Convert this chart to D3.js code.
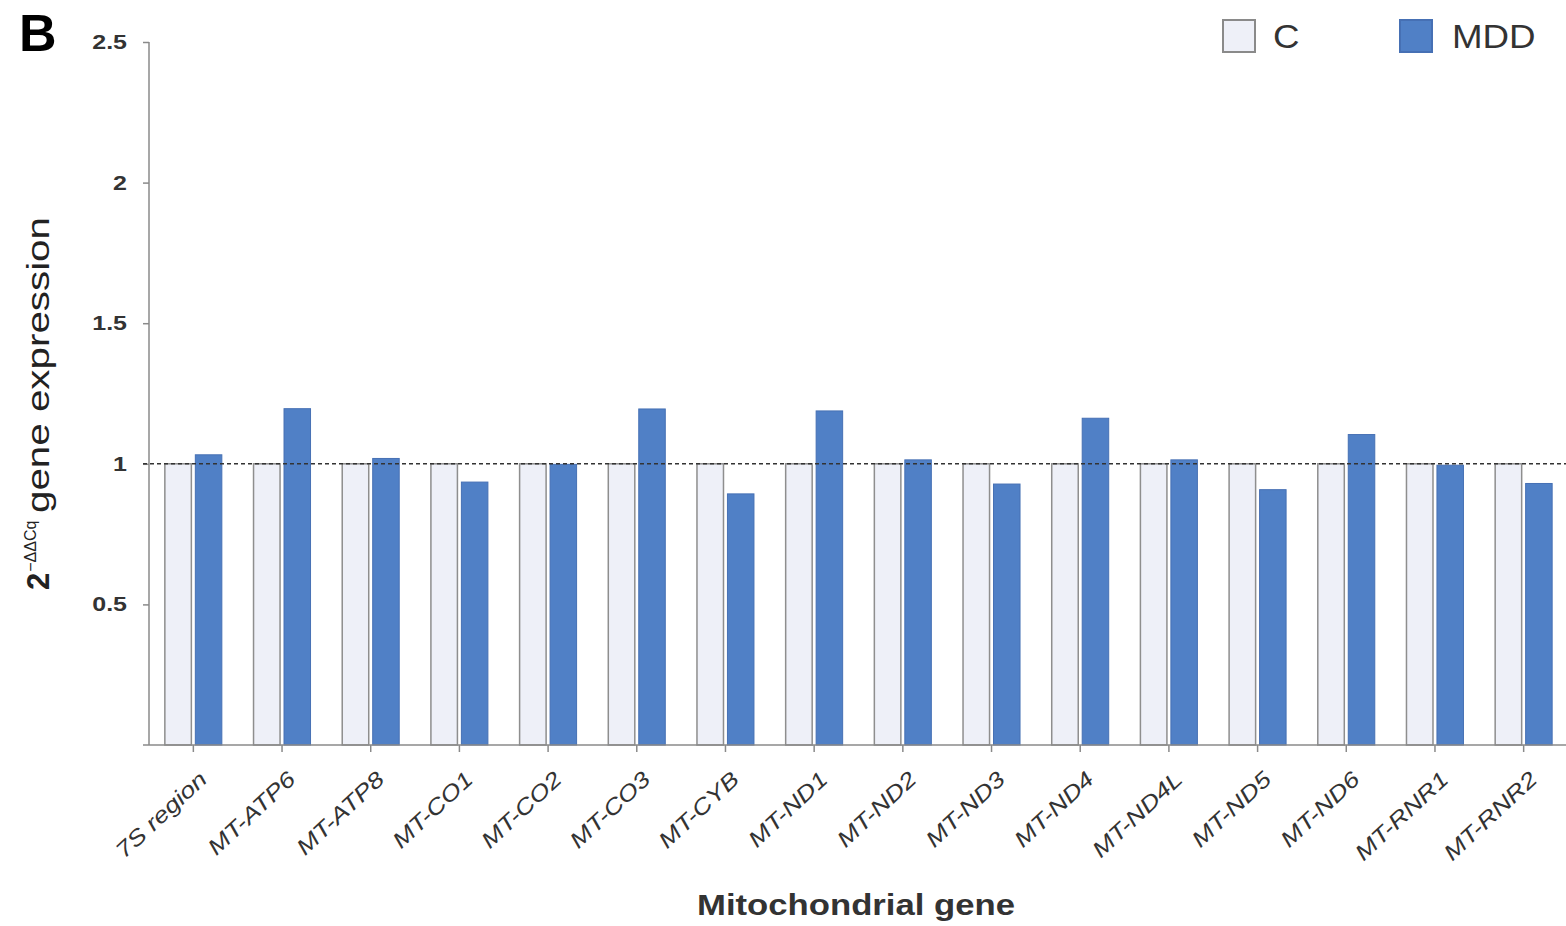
<!DOCTYPE html>
<html>
<head>
<meta charset="utf-8">
<script src="https://cdn.jsdelivr.net/npm/d3@7"></script>
<style>
  html, body { margin: 0; padding: 0; background: #fff; }
  svg { display: block; }
  text { font-family: Arial, "Liberation Sans", sans-serif; }
</style>
</head>
<body>
<svg id="chart" width="1566" height="926"></svg>
<script>
// Mitochondrial gene expression (2^-ΔΔCq), controls vs. MDD
const genes = ["7S region", "MT-ATP6", "MT-ATP8", "MT-CO1", "MT-CO2", "MT-CO3", "MT-CYB", "MT-ND1",
               "MT-ND2", "MT-ND3", "MT-ND4", "MT-ND4L", "MT-ND5", "MT-ND6", "MT-RNR1", "MT-RNR2"];
const groups = ["C", "MDD"];
const controlValues = [1, 1, 1, 1, 1, 1, 1, 1, 1, 1, 1, 1, 1, 1, 1, 1];
const mddValues = [1.032, 1.196, 1.019, 0.935, 0.998, 1.195, 0.893, 1.188,
                   1.014, 0.928, 1.162, 1.014, 0.908, 1.104, 0.995, 0.930];
const yTicks = [0.5, 1, 1.5, 2, 2.5];
const referenceLevel = 1;

const colors = { C: "#eef0f8", MDD: "#5080c6" };
const strokes = { C: "#8e8e8e", MDD: "#4670b4" };

const svg = d3.select("#chart");

const plot = { left: 149, right: 1568, top: 42, bottom: 745 };

const x = d3.scaleBand().domain(genes).range([plot.left, plot.right]).paddingInner(0).paddingOuter(0);
const xInner = d3.scaleBand().domain(groups).range([0, x.bandwidth()]).paddingInner(0.13).paddingOuter(0.52);
const y = d3.scaleLinear().domain([0, 2.5]).range([plot.bottom, plot.top]);

const rows = genes.map((g, i) => ({ gene: g, C: controlValues[i], MDD: mddValues[i] }));

// horizontal stretch helper for text blocks
function stretch(sel, factor) {
  sel.each(function () {
    const w = this.getComputedTextLength();
    d3.select(this).attr("textLength", w * factor).attr("lengthAdjust", "spacingAndGlyphs");
  });
}

// y axis
const yAxis = svg.append("g")
  .attr("transform", `translate(${plot.left},0)`)
  .call(d3.axisLeft(y).tickValues(yTicks).tickSize(6).tickPadding(16)
    .tickFormat(d => String(d)));
yAxis.select(".domain").attr("d", `M0,${plot.top}V${plot.bottom}`).attr("stroke", "#8a8a8a").attr("stroke-width", 1.5);
yAxis.selectAll(".tick line").attr("stroke", "#8a8a8a").attr("stroke-width", 1.5);
yAxis.selectAll(".tick text")
  .attr("fill", "#333").attr("font-size", 20).attr("font-weight", "bold")
  .attr("font-family", "Arial, 'Liberation Sans', sans-serif")
  .call(stretch, 1.25);

// control bars
const groupsSel = svg.append("g").selectAll("g.gene")
  .data(rows).join("g").attr("class", "gene")
  .attr("transform", d => `translate(${x(d.gene)},0)`);

groupsSel.append("rect")
  .attr("x", xInner("C"))
  .attr("width", xInner.bandwidth())
  .attr("y", d => y(d.C))
  .attr("height", d => y(0) - y(d.C))
  .attr("fill", colors.C).attr("stroke", strokes.C).attr("stroke-width", 1.5);

// reference line at 1
svg.append("line")
  .attr("x1", plot.left - 6).attr("x2", 1566)
  .attr("y1", y(referenceLevel)).attr("y2", y(referenceLevel))
  .attr("stroke", "#333").attr("stroke-width", 1.6).attr("stroke-dasharray", "4,3");

// MDD bars
groupsSel.append("rect")
  .attr("x", xInner("MDD"))
  .attr("width", xInner.bandwidth())
  .attr("y", d => y(d.MDD))
  .attr("height", d => y(0) - y(d.MDD))
  .attr("fill", colors.MDD).attr("stroke", strokes.MDD).attr("stroke-width", 1);

// x axis
const xAxis = svg.append("g")
  .attr("transform", `translate(0,${plot.bottom})`)
  .call(d3.axisBottom(x).tickSize(7).tickFormat(""));
xAxis.select(".domain").attr("d", `M${plot.left - 6},0H1566`).attr("stroke", "#8a8a8a").attr("stroke-width", 1.5);
xAxis.selectAll(".tick line").attr("stroke", "#8a8a8a").attr("stroke-width", 1.5);

// rotated gene labels
svg.append("g").selectAll("text")
  .data(genes).join("text")
  .attr("transform", d => `translate(${x(d) + x.bandwidth() / 2 + 15},${plot.bottom + 36}) rotate(-43)`)
  .attr("text-anchor", "end")
  .attr("font-size", 22).attr("font-style", "italic").attr("fill", "#333")
  .text(d => d)
  .call(stretch, 1.22);

// x axis title
svg.append("text")
  .attr("x", 856).attr("y", 915)
  .attr("text-anchor", "middle")
  .attr("font-size", 30).attr("font-weight", "bold").attr("fill", "#333")
  .attr("textLength", 318).attr("lengthAdjust", "spacingAndGlyphs")
  .text("Mitochondrial gene");

// y axis title: 2 with superscript, then the label text
const yTitle = svg.append("g").attr("transform", "translate(49,0) rotate(-90)");
const yBase = yTitle.append("text")
  .attr("x", -590).attr("y", 0)
  .attr("fill", "#222").attr("font-size", 31);
yBase.append("tspan").attr("font-weight", "bold").text("2");
yBase.append("tspan").attr("font-size", 16).attr("dy", -13).attr("dx", 1).text("−ΔΔCq");
yTitle.append("text")
  .attr("x", -513).attr("y", 0)
  .attr("fill", "#222").attr("font-size", 31)
  .attr("textLength", 296).attr("lengthAdjust", "spacingAndGlyphs")
  .text("gene expression");

// panel letter
svg.append("text")
  .attr("x", 19).attr("y", 51)
  .attr("font-size", 52).attr("font-weight", "bold").attr("fill", "#000")
  .text("B");

// legend
const legendItems = [
  { key: "C", box: 1223, label: 1273 },
  { key: "MDD", box: 1400, label: 1452 }
];
const legend = svg.append("g");
legend.selectAll("rect").data(legendItems).join("rect")
  .attr("x", d => d.box).attr("y", 20).attr("width", 32).attr("height", 32)
  .attr("fill", d => colors[d.key]).attr("stroke", d => d.key === "C" ? "#8a8a8a" : strokes.MDD)
  .attr("stroke-width", 2);
legend.selectAll("text").data(legendItems).join("text")
  .attr("x", d => d.label).attr("y", 48)
  .attr("font-size", 34).attr("fill", "#333")
  .text(d => d.key)
  .call(stretch, 1.08);
</script>
</body>
</html>
